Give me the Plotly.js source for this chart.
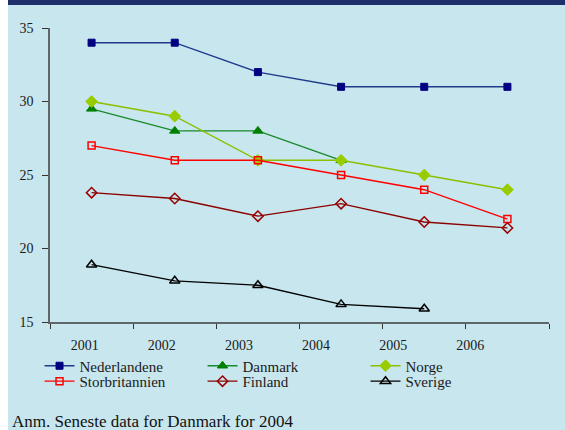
<!DOCTYPE html>
<html>
<head>
<meta charset="utf-8">
<script src="https://cdn.plot.ly/plotly-3.0.1.min.js"></script>
<style>
  html, body { margin: 0; padding: 0; background: #ffffff; width: 565px; height: 430px; overflow: hidden; }
  #wrap { position: absolute; left: 8px; top: 0; width: 557px; height: 430px; background: #C8E6ED; }
  #bar { position: absolute; left: 0; top: 0; width: 557px; height: 5px; background: #1F2F6B; }
  #chart { position: absolute; left: 0; top: 5px; width: 557px; height: 425px; }
</style>
</head>
<body>
<div id="wrap"><div id="bar"></div><div id="chart"></div></div>
<script>
const years = ['2001', '2002', '2003', '2004', '2005', '2006'];
const nederlandene   = [34, 34, 32, 31, 31, 31];
const danmark        = [29.5, 28, 28, 26, null, null];
const norge          = [30, 29, 26, 26, 25, 24];
const storbritannien = [27, 26, 26, 25, 24, 22];
const finland        = [23.8, 23.4, 22.2, 23.05, 21.8, 21.4];
const sverige        = [18.9, 17.8, 17.5, 16.2, 15.9, null];
const note = 'Anm. Seneste data for Danmark for 2004';

const serif = 'Liberation Serif, Times New Roman, serif';

function tr(name, y, lineColor, marker, legendId) {
  return {
    type: 'scatter', mode: 'lines+markers', name: name,
    x: years, y: y, connectgaps: false,
    line: { color: lineColor, width: 1.4 },
    marker: marker,
    legend: legendId,
    hoverinfo: 'x+y+name'
  };
}

const data = [
  tr('Nederlandene', nederlandene, '#1F3A8A', { symbol: 'square', size: 7, color: '#000080', line: { color: '#000080', width: 1 } }, 'legend'),
  tr('Danmark', danmark, '#178A2A', { symbol: 'triangle-up', size: 9, color: '#008000', line: { color: '#008000', width: 1 } }, 'legend'),
  tr('Norge', norge, '#8CBF00', { symbol: 'diamond', size: 9, color: '#99CC00', line: { color: '#99CC00', width: 1 } }, 'legend'),
  tr('Storbritannien', storbritannien, '#FF0000', { symbol: 'square-open', size: 7, color: '#FF0000', line: { color: '#FF0000', width: 1.5 } }, 'legend2'),
  tr('Finland', finland, '#8B0000', { symbol: 'diamond-open', size: 8, color: '#990000', line: { color: '#990000', width: 1.5 } }, 'legend2'),
  tr('Sverige', sverige, '#000000', { symbol: 'triangle-up-open', size: 9, color: '#000000', line: { color: '#000000', width: 1.5 } }, 'legend2'),
  { type: 'scatter', mode: 'lines', x: years, y: years.map(() => null), xaxis: 'x2', yaxis: 'y',
    showlegend: false, hoverinfo: 'skip', line: { width: 0 } }
];

const legendBase = {
  orientation: 'h', x: -0.021, xanchor: 'left', yanchor: 'top',
  entrywidth: 118, entrywidthmode: 'pixels',
  bgcolor: 'rgba(0,0,0,0)', font: { family: serif, size: 15, color: '#1a1a1a' },
  itemwidth: 30
};

const layout = {
  width: 557, height: 425,
  margin: { l: 42, r: 16, t: 23, b: 108 },
  paper_bgcolor: '#C8E6ED',
  plot_bgcolor: '#C8E6ED',
  font: { family: serif, size: 14, color: '#1a1a1a' },
  showlegend: true,
  xaxis: {
    type: 'category', range: [-0.5, 5.5],
    showline: true, linecolor: '#5f666a', linewidth: 1.6,
    ticks: 'outside', tickson: 'boundaries', ticklen: 5, tickcolor: '#333', tickwidth: 1,
    showticklabels: false, showgrid: false, zeroline: false, fixedrange: true
  },
  xaxis2: {
    type: 'category', overlaying: 'x', anchor: 'y', side: 'bottom',
    range: [-0.45, 6.02],
    showline: false, ticks: '', showgrid: false, zeroline: false,
    tickfont: { family: serif, size: 14, color: '#1a1a1a' },
    ticklabelstandoff: 13
  },
  yaxis: {
    range: [15, 35], dtick: 5, tick0: 15,
    showline: true, linecolor: '#5f666a', linewidth: 1.6,
    ticks: 'outside', ticklen: 6, tickcolor: '#333', tickwidth: 1,
    showgrid: false, zeroline: false,
    tickfont: { family: serif, size: 14, color: '#1a1a1a' },
    ticklabelstandoff: 6
  },
  legend: Object.assign({}, legendBase, { y: -0.0935 }),
  legend2: Object.assign({}, legendBase, { y: -0.146 }),
  annotations: [{
    text: note, xref: 'paper', yref: 'paper', x: -0.08, y: -0.30,
    xanchor: 'left', yanchor: 'top', showarrow: false,
    font: { family: serif, size: 17, color: '#111' }
  }]
};

Plotly.newPlot('chart', data, layout, { displayModeBar: false, staticPlot: true });
</script>
</body>
</html>
